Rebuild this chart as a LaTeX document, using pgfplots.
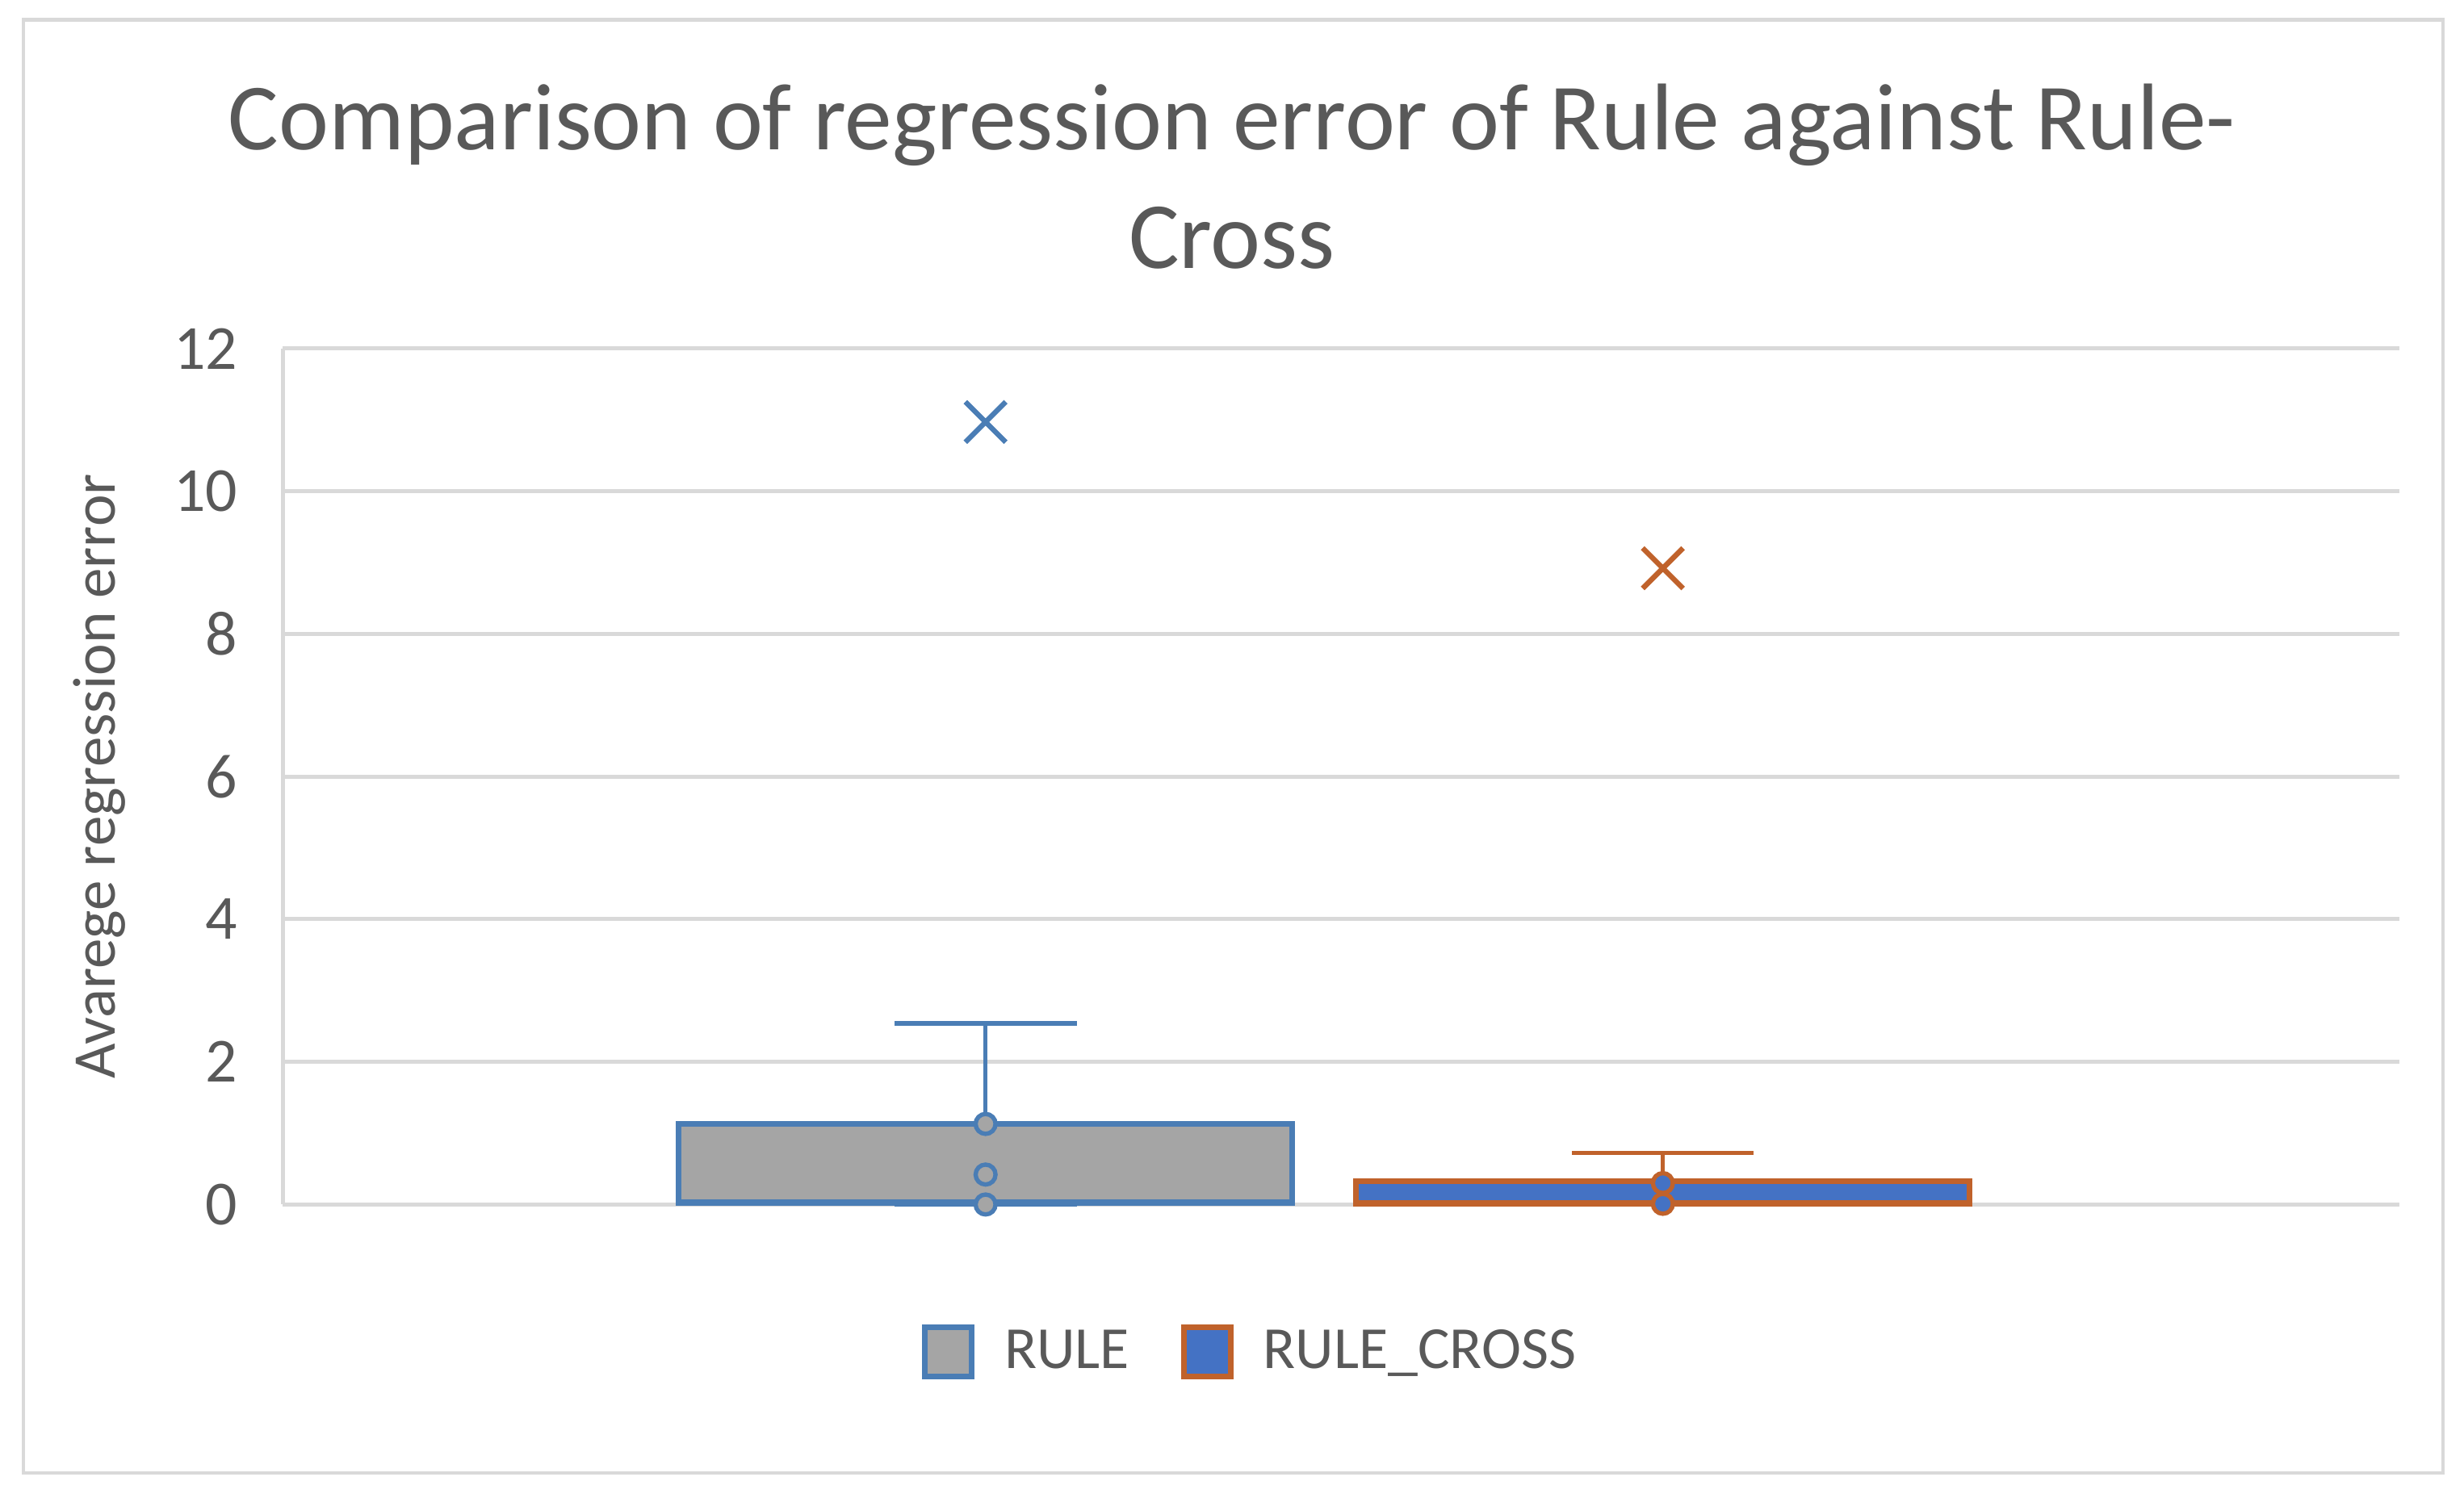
\documentclass[border=0pt]{standalone}
\usepackage{fontspec}
\setmainfont{Carlito}
\usepackage{pgfplots}
\usepgfplotslibrary{statistics}
\pgfplotsset{compat=1.18}
\definecolor{TextGray}{HTML}{595959}
\definecolor{GridGray}{HTML}{D9D9D9}
\definecolor{RuleBlue}{HTML}{4A7DB5}
\definecolor{RuleGray}{HTML}{A5A5A5}
\definecolor{CrossBlue}{HTML}{4472C4}
\definecolor{CrossOrange}{HTML}{C0622B}

\begin{document}
\begin{tikzpicture}
  \path[use as bounding box] (0,0) rectangle (20cm,12.19cm);
  \draw[GridGray, line width=0.8pt] (0.19cm,0.23cm) rectangle (19.83cm,12.03cm);
  \begin{axis}[
    at={(2.296cm,2.41cm)}, anchor=south west,
    scale only axis, width=17.18cm, height=6.95cm,
    xmin=0, xmax=1, ymin=0, ymax=12,
    xtick=\empty, ytick={0,2,...,12},
    axis x line*=bottom, axis y line*=left,
    axis line style={-, draw=GridGray, line width=0.9pt},
    ymajorgrids, grid style={GridGray, line width=0.9pt},
    major tick length=0pt,
    clip=false,
    boxplot/draw direction=y,
    tick label style={font=\fontsize{14.5}{17}\selectfont, text=TextGray},
    yticklabel style={inner sep=0pt, xshift=-0.36cm},
    /pgf/number format/assume math mode=true,
    every axis y label/.style={at={(rel axis cs:0,0.5)}, anchor=center,
      xshift=-1.49cm, rotate=90},
    ylabel={Avarege regression error},
    label style={font=\fontsize{14}{17}\selectfont, text=TextGray},
    title={Comparison of regression error of Rule against Rule-\\Cross},
    title style={at={(rel axis cs:0.4484,1.28)}, anchor=north, align=center,
      inner sep=0pt, font=\fontsize{21.9}{27.4}\selectfont, text=TextGray},
    legend image code/.code={\draw[#1] (0cm,-0.2cm) rectangle (0.38cm,0.2cm);},
    legend style={at={(0.4566,-0.1725)}, anchor=center, draw=none,
      legend columns=2, font=\fontsize{13.8}{17}\selectfont, text=TextGray,
      nodes={inner sep=0pt},
      /tikz/every odd column/.append style={column sep=0.24cm},
      /tikz/every even column/.append style={column sep=0.42cm}},
  ]
    \addlegendimage{draw=RuleBlue, fill=RuleGray, line width=1.3pt}
    \addlegendentry{RULE}
    \addlegendimage{draw=CrossOrange, fill=CrossBlue, line width=1.3pt}
    \addlegendentry{RULE\_CROSS}

    % RULE
    \addplot[forget plot, draw=RuleBlue, line width=1pt,
      boxplot/every box/.style={fill=RuleGray, line width=1.3pt},
      boxplot/every median/.style={line width=1.3pt},
      boxplot prepared={lower whisker=0, lower quartile=0.02, median=0.03,
        upper quartile=1.13, upper whisker=2.54,
        draw position=0.332, box extend=0.29, whisker extend=0.086}]
      coordinates {};
    \addplot[forget plot, only marks, mark=*, mark size=2.3pt,
      mark options={draw=RuleBlue, fill=RuleGray, line width=1pt}]
      coordinates {(0.332,1.13) (0.332,0.42) (0.332,0)};
    \addplot[forget plot, only marks, mark=x, mark size=6.6pt,
      mark options={draw=RuleBlue, line width=1.2pt}]
      coordinates {(0.332,10.97)};

    % RULE_CROSS
    \addplot[forget plot, draw=CrossOrange, line width=1pt,
      boxplot/every box/.style={fill=CrossBlue, line width=1.3pt},
      boxplot/every median/.style={line width=1.3pt},
      boxplot prepared={lower whisker=0, lower quartile=0.01, median=0.02,
        upper quartile=0.33, upper whisker=0.72,
        draw position=0.652, box extend=0.29, whisker extend=0.086}]
      coordinates {};
    \addplot[forget plot, only marks, mark=*, mark size=2.3pt,
      mark options={draw=CrossOrange, fill=CrossBlue, line width=1pt}]
      coordinates {(0.652,0.30) (0.652,0.01)};
    \addplot[forget plot, only marks, mark=x, mark size=6.6pt,
      mark options={draw=CrossOrange, line width=1.2pt}]
      coordinates {(0.652,8.92)};
  \end{axis}
\end{tikzpicture}
\end{document}
